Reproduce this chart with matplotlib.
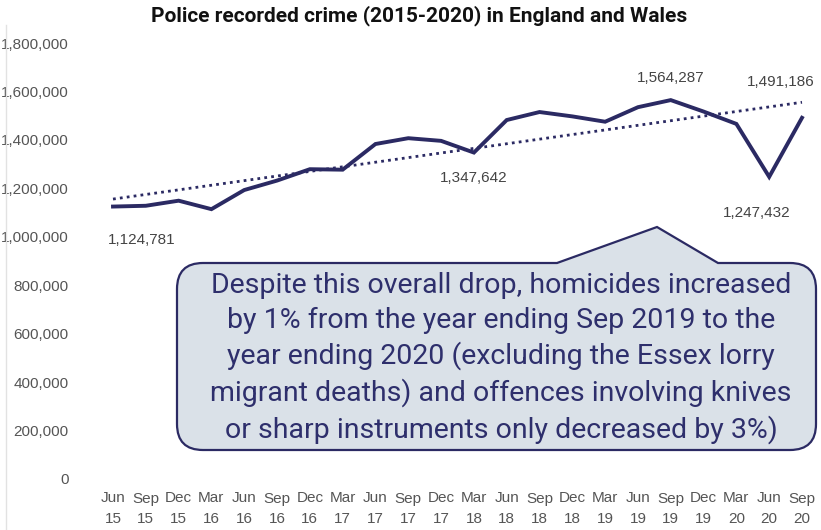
import numpy as np
import matplotlib
matplotlib.use("Agg")
import matplotlib.pyplot as plt
from matplotlib.path import Path
from matplotlib.patches import PathPatch
from matplotlib.lines import Line2D
from matplotlib.ticker import FuncFormatter

# quarterly police recorded crime, year ending each quarter
months = ["Jun", "Sep", "Dec", "Mar"] * 5 + ["Jun", "Sep"]
years = ["15", "15", "15", "16", "16", "16", "16", "17", "17", "17", "17",
         "18", "18", "18", "18", "19", "19", "19", "19", "20", "20", "20"]
crimes = [1124781, 1128000, 1149000, 1114000, 1193000, 1232000, 1279000,
          1277000, 1383000, 1407000, 1396000, 1347642, 1482000, 1515000,
          1497000, 1475000, 1535000, 1564287, 1517000, 1466000, 1247432,
          1491186]
# index -> (x shift, y shift) of the value label
labelled = {0: (0.88, -138000), 11: (0.0, -105000), 17: (0.0, 92000),
            21: (-0.65, 148000), 20: (-0.37, -149000)}

title = "Police recorded crime (2015-2020) in England and Wales"
note = ("Despite this overall drop, homicides increased\n"
        "by 1% from the year ending Sep 2019 to the\n"
        "year ending 2020 (excluding the Essex lorry\n"
        "migrant deaths) and offences involving knives\n"
        "or sharp instruments only decreased by 3%)")

navy = "#2b2a63"
grey = "#555555"
W, H = 821, 530


def px(x, y):
    return (x / W, 1 - y / H)


fig = plt.figure(figsize=(W / 100, H / 100), dpi=100)
l, b = px(113, 479)
r, t = px(802, 43)
ax = fig.add_axes([l, b, r - l, t - b])

x = np.arange(len(crimes))
ax.plot(x, crimes, color=navy, lw=2.8, solid_joinstyle="miter", clip_on=False, zorder=3)

slope, icpt = np.polyfit(x, crimes, 1)
ax.plot(x, slope * x + icpt, color=navy, lw=2, ls=(0, (1, 1.5)), clip_on=False, zorder=2)

for i, (dx, dy) in labelled.items():
    ax.text(i + dx, crimes[i] + dy, f"{crimes[i]:,}", ha="center", va="center",
            fontsize=11, color="#444444", family="Liberation Sans")

ax.set_xlim(0, 21)
ax.set_ylim(0, 1800000)
ax.set_yticks(np.arange(0, 1800001, 200000))
ax.yaxis.set_major_formatter(FuncFormatter(lambda v, p: f"{int(v):,}"))
ax.set_xticks(x)
ax.set_xticklabels([f"{m}\n{y}" for m, y in zip(months, years)], linespacing=1.55)
ax.tick_params(axis="y", length=0, pad=32, labelsize=11, labelcolor=grey)
ax.tick_params(axis="x", length=0, pad=9, labelsize=11, labelcolor=grey)
for lab in ax.get_xticklabels() + ax.get_yticklabels():
    lab.set_family("Liberation Sans")
for s in ax.spines.values():
    s.set_visible(False)

fig.add_artist(Line2D([6 / W, 6 / W], [0, 1 - 25 / H], color="#e2e2e2", lw=1))

fig.text(0.51, 1 - 16 / H, title, ha="center", va="center", fontsize=15,
         fontweight="bold", family="Roboto", color="#111111")

# speech bubble with pointer
x0, x1, y0, y1, rad = 177, 816, 263, 450, 26
verts = [(x0 + rad, y0), (557, y0), (657, 227), (718, y0), (x1 - rad, y0),
         (x1, y0), (x1, y0 + rad), (x1, y1 - rad), (x1, y1), (x1 - rad, y1),
         (x0 + rad, y1), (x0, y1), (x0, y1 - rad), (x0, y0 + rad), (x0, y0),
         (x0 + rad, y0), (x0 + rad, y0)]
codes = [Path.MOVETO, Path.LINETO, Path.LINETO, Path.LINETO, Path.LINETO,
         Path.CURVE3, Path.CURVE3, Path.LINETO, Path.CURVE3, Path.CURVE3,
         Path.LINETO, Path.CURVE3, Path.CURVE3, Path.LINETO, Path.CURVE3,
         Path.CURVE3, Path.CLOSEPOLY]
bubble = PathPatch(Path([px(*v) for v in verts], codes), transform=fig.transFigure,
                   facecolor="#dae1e8", edgecolor=navy, lw=1.6, zorder=5)
fig.add_artist(bubble)
fig.text(*px(501, 358), note, ha="center", va="center", fontsize=20.5,
         linespacing=1.35, family="Roboto", color="#2e2f6c", zorder=6)

fig.savefig("out.png", dpi=100)
